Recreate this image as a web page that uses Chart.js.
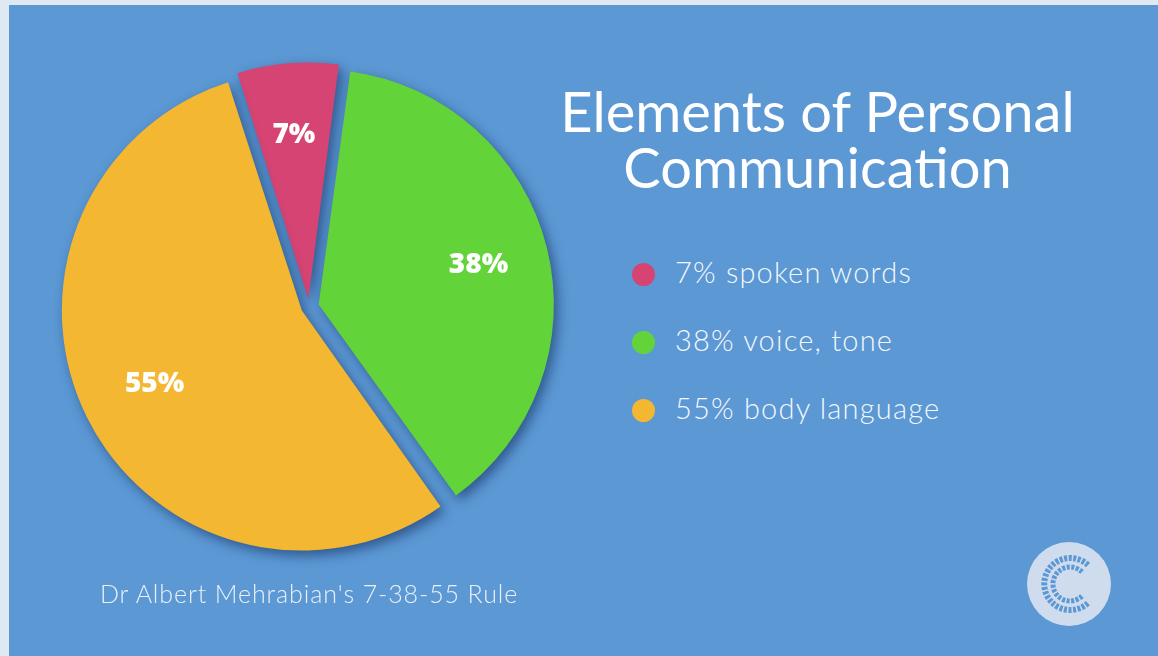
<!DOCTYPE html>
<html>
<head>
<meta charset="utf-8">
<script src="https://cdn.jsdelivr.net/npm/chart.js@4.4.1/dist/chart.umd.min.js"></script>
<style>
  html, body { margin: 0; padding: 0; }
  body { width: 1158px; height: 656px; background: #dfe9f4; position: relative; overflow: hidden; font-family: Lato, "Open Sans", sans-serif; }
  #panel { position: absolute; left: 9px; top: 5px; right: 0; bottom: 0; background: #5b98d4; }
  #pie { position: absolute; left: 9px; top: 7px; }
  #title { position: absolute; left: 560px; top: 83px; width: 515px; text-align: center; color: #fff; font-size: 56px; line-height: 56px; }
  #legend { position: absolute; left: 632px; top: 253px; margin: 0; padding: 0; list-style: none; }
  #legend li { height: 68px; line-height: 38px; color: #f4f7fb; font-size: 29px; font-weight: 300; letter-spacing: 1.2px; white-space: nowrap; }
  #legend span { display: inline-block; width: 23px; height: 23px; border-radius: 50%; vertical-align: -3px; margin-right: 20px; }
  #note { position: absolute; left: 100px; top: 578px; color: #eaf0f8; font-size: 25px; font-weight: 300; letter-spacing: 0.9px; }
  #logo { position: absolute; left: 1026px; top: 541px; }
</style>
</head>
<body>
<div id="panel"></div>
<canvas id="pie" width="600" height="600"></canvas>
<div id="title">Elements of Personal<br>Communication</div>
<ul id="legend"></ul>
<div id="note">Dr Albert Mehrabian's 7-38-55 Rule</div>
<svg id="logo" width="86" height="86" viewBox="0 0 86 86">
  <circle cx="43" cy="43" r="42" fill="#cfdcee"/>
  <path d="M62 24 A26 26 0 1 0 62 62" fill="none" stroke="#5b98d4" stroke-width="6" stroke-dasharray="3 1.5"/>
  <path d="M56 31 A17 17 0 1 0 56 55" fill="none" stroke="#5b98d4" stroke-width="5" stroke-dasharray="3 1.5"/>
</svg>
<script>
const labels = ['spoken words', 'voice, tone', 'body language'];
const values = [7, 38, 55];
const colors = ['#d64473', '#63d33a', '#f4b731'];
// chart.js moves an arc by offset / 4, so these give roughly 8-10px of explode
const offsets = [32, 40, 32];

// legend built from the same arrays
const legend = document.getElementById('legend');
labels.forEach((l, i) => {
    const li = document.createElement('li');
    li.innerHTML = '<span style="background:' + colors[i] + '"></span>' + values[i] + '% ' + l;
    legend.appendChild(li);
});

// soft dark shadow under the slices, then the percent labels
const shadowPlugin = {
    id: 'sliceShadow',
    beforeDatasetsDraw(chart) {
        const ctx = chart.ctx;
        ctx.save();
        ctx.shadowColor = 'rgba(20, 45, 95, 0.6)';
        ctx.shadowBlur = 12;
        ctx.shadowOffsetX = 4;
        ctx.shadowOffsetY = 5;
    },
    afterDatasetsDraw(chart) {
        const ctx = chart.ctx;
        ctx.restore();
        const meta = chart.getDatasetMeta(0);
        ctx.save();
        ctx.fillStyle = '#ffffff';
        ctx.font = '800 28px "Open Sans"';
        ctx.textAlign = 'center';
        ctx.textBaseline = 'middle';
        meta.data.forEach((arc, i) => {
            const mid = (arc.startAngle + arc.endAngle) / 2;
            const d = offsets[i] / 4 + arc.outerRadius * 0.71;
            ctx.fillText(values[i] + '%', arc.x + Math.cos(mid) * d, arc.y + Math.sin(mid) * d);
        });
        ctx.restore();
    }
};

const ctxPie = document.getElementById('pie').getContext('2d');
const pieChart = new Chart(ctxPie, {
    type: 'pie',
    data: {
        labels: labels,
        datasets: [
            {
                data: values,
                backgroundColor: colors,
                borderWidth: 0,
                offset: offsets,
            },
        ],
    },
    options: {
        responsive: false,
        animation: false,
        rotation: -17.6,
        layout: { padding: 48 },
        plugins: {
            legend: { display: false },
            tooltip: { enabled: false },
        },
    },
    plugins: [shadowPlugin],
});
</script>
</body>
</html>
